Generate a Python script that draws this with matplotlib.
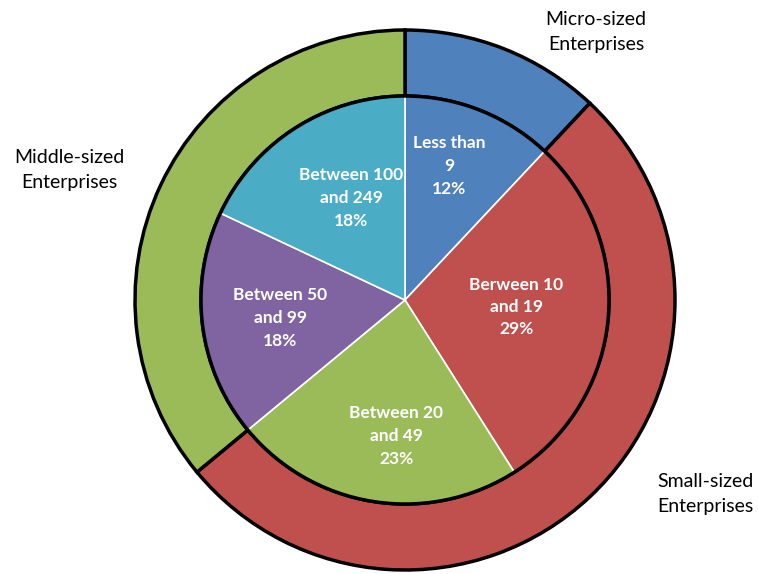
import matplotlib.pyplot as plt
from matplotlib.patches import Circle

# outer ring: enterprise size class
group_names = ["Micro-sized\nEnterprises", "Small-sized\nEnterprises", "Middle-sized\nEnterprises"]
group_values = [12, 52, 36]
group_colors = ["#4F81BD", "#C0504D", "#9BBB59"]

# inner pie: number of employees
class_names = ["Less than\n9", "Berween 10\nand 19", "Between 20\nand 49", "Between 50\nand 99", "Between 100\nand 249"]
class_values = [12, 29, 23, 18, 18]
class_colors = ["#4F81BD", "#C0504D", "#9BBB59", "#8064A2", "#4BACC6"]

W, H = 758, 574
fig = plt.figure(figsize=(W / 100, H / 100), dpi=100)
ax = fig.add_axes([0, 0, 1, 1])

cx, cy = 405, 274
r_out, r_in = 270, 204

ax.pie(group_values, colors=group_colors, startangle=90, counterclock=False,
       radius=r_out, center=(cx, cy), frame=True,
       wedgeprops=dict(width=r_out - r_in, edgecolor="black", linewidth=2.5))
ax.pie(class_values, colors=class_colors, startangle=90, counterclock=False,
       radius=r_in, center=(cx, cy), frame=True,
       wedgeprops=dict(edgecolor="white", linewidth=1.2))
ax.add_patch(Circle((cx, cy), r_in, fill=False, edgecolor="black", linewidth=2.5, zorder=5))
ax.set_xlim(0, W)
ax.set_ylim(0, H)
ax.set_aspect("equal")
ax.axis("off")

# inner labels (pixel coords from top-left)
inner_pos = [(449, 166), (516, 307), (396, 436), (280, 318), (351, 198)]
for name, val, (px, py) in zip(class_names, class_values, inner_pos):
    ax.text(px, H - py, f"{name}\n{val}%", ha="center", va="center", color="white",
            fontsize=12.5, fontweight="bold", family="Lato", linespacing=1.5, zorder=6)

outer_pos = [(596, 32), (705, 494), (69, 170)]
for name, (px, py) in zip(group_names, outer_pos):
    ax.text(px, H - py, name, ha="center", va="center", color="black",
            fontsize=14, family="Lato", linespacing=1.6)

fig.savefig("out.png", dpi=100)
